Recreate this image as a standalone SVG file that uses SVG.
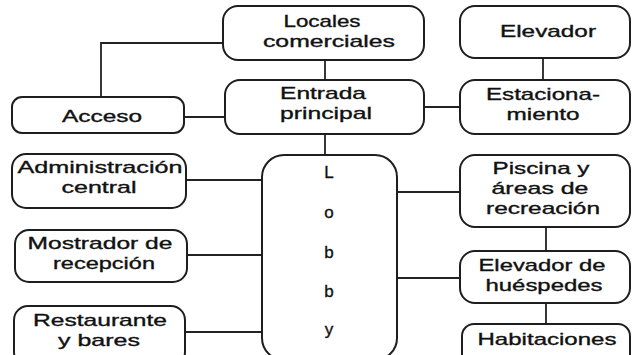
<svg xmlns="http://www.w3.org/2000/svg" width="633" height="355" viewBox="0 0 633 355">
<style>
.box{fill:#fff;stroke:#1e1e1e;stroke-width:2}
.ln{fill:none;stroke:#222;stroke-width:1.8}
text{font-family:"Liberation Sans",Arial,sans-serif;font-size:17px;fill:#111;stroke:#111;stroke-width:0.35;text-anchor:middle}
</style>
<rect width="633" height="355" fill="#fff"/>
<g id="connectors">
<path class="ln" d="M223 43H101V97"/>
<path class="ln" d="M184 117H225"/>
<path class="ln" d="M325 60V80"/>
<path class="ln" d="M424 107H460"/>
<path class="ln" d="M543 58V80"/>
<path class="ln" d="M325 134V155"/>
<path class="ln" d="M186 180H262"/>
<path class="ln" d="M187 255H262"/>
<path class="ln" d="M185 332H262"/>
<path class="ln" d="M397 192H460"/>
<path class="ln" d="M397 278H460"/>
<path class="ln" d="M546 227V251"/>
<path class="ln" d="M546 303V324"/>
</g>
<g id="locales">
<rect class="box" x="223" y="6" width="201" height="54" rx="15"/>
<text x="322" y="27" textLength="77" lengthAdjust="spacingAndGlyphs">Locales</text>
<text x="329" y="47" textLength="132" lengthAdjust="spacingAndGlyphs">comerciales</text>
</g>
<g id="elevador">
<rect class="box" x="460" y="6" width="170" height="52" rx="15"/>
<text x="548" y="37" textLength="96" lengthAdjust="spacingAndGlyphs">Elevador</text>
</g>
<g id="entrada">
<rect class="box" x="225" y="80" width="199" height="54" rx="15"/>
<text x="323" y="99" textLength="86" lengthAdjust="spacingAndGlyphs">Entrada</text>
<text x="326" y="119" textLength="92" lengthAdjust="spacingAndGlyphs">principal</text>
</g>
<g id="acceso">
<rect class="box" x="12" y="97" width="172" height="36" rx="10"/>
<text x="102" y="122" textLength="80" lengthAdjust="spacingAndGlyphs">Acceso</text>
</g>
<g id="estacionamiento">
<rect class="box" x="460" y="80" width="170" height="54" rx="15"/>
<text x="543" y="100" textLength="114" lengthAdjust="spacingAndGlyphs">Estaciona-</text>
<text x="543" y="120" textLength="73" lengthAdjust="spacingAndGlyphs">miento</text>
</g>
<g id="administracion">
<rect class="box" x="12" y="154" width="174" height="54" rx="14"/>
<text x="100" y="173" textLength="165" lengthAdjust="spacingAndGlyphs">Administración</text>
<text x="99" y="193" textLength="75" lengthAdjust="spacingAndGlyphs">central</text>
</g>
<g id="mostrador">
<rect class="box" x="15" y="230" width="172" height="52" rx="14"/>
<text x="100" y="249" textLength="145" lengthAdjust="spacingAndGlyphs">Mostrador de</text>
<text x="104" y="269" textLength="102" lengthAdjust="spacingAndGlyphs">recepción</text>
</g>
<g id="restaurante">
<rect class="box" x="14" y="306" width="171" height="60" rx="14"/>
<text x="100" y="326" textLength="134" lengthAdjust="spacingAndGlyphs">Restaurante</text>
<text x="99" y="346" textLength="82" lengthAdjust="spacingAndGlyphs">y bares</text>
</g>
<g id="lobby">
<rect class="box" x="262" y="155" width="135" height="205" rx="22"/>
<text x="329" y="178" font-size="18">L</text>
<text x="329" y="218" font-size="18">o</text>
<text x="329" y="258" font-size="18">b</text>
<text x="329" y="297" font-size="18">b</text>
<text x="329" y="335" font-size="18">y</text>
</g>
<g id="piscina">
<rect class="box" x="460" y="155" width="170" height="72" rx="15"/>
<text x="541" y="174" textLength="97" lengthAdjust="spacingAndGlyphs">Piscina y</text>
<text x="540" y="194" textLength="97" lengthAdjust="spacingAndGlyphs">áreas de</text>
<text x="543" y="214" textLength="114" lengthAdjust="spacingAndGlyphs">recreación</text>
</g>
<g id="elevador-huespedes">
<rect class="box" x="460" y="251" width="170" height="52" rx="15"/>
<text x="542" y="271" textLength="127" lengthAdjust="spacingAndGlyphs">Elevador de</text>
<text x="544" y="291" textLength="117" lengthAdjust="spacingAndGlyphs">huéspedes</text>
</g>
<g id="habitaciones">
<rect class="box" x="462" y="324" width="168" height="45" rx="12"/>
<text x="547" y="345" textLength="139" lengthAdjust="spacingAndGlyphs">Habitaciones</text>
</g>
</svg>
